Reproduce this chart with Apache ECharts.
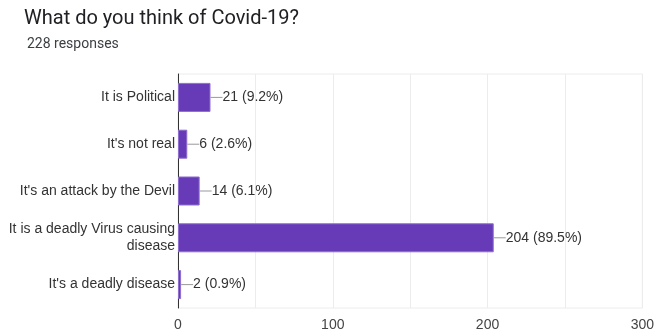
<!DOCTYPE html>
<html>
<head>
<meta charset="utf-8">
<script src="https://cdn.jsdelivr.net/npm/echarts@6/dist/echarts.min.js"></script>
<style>
  html, body { margin: 0; padding: 0; background: #fff; }
  #chart { width: 657px; height: 332px; }
</style>
</head>
<body>
<div id="chart"></div>
<script>
// Survey answers, top to bottom
const categories = [
  "It is Political",
  "It's not real",
  "It's an attack by the Devil",
  "It is a deadly Virus causing\ndisease",
  "It's a deadly disease"
];
const counts = [21, 6, 14, 204, 2];
const percents = ["9.2%", "2.6%", "6.1%", "89.5%", "0.9%"];
const xTicks = [0, 100, 200, 300];
const totalResponses = 228;

const chart = echarts.init(document.getElementById('chart'), null, { renderer: 'canvas' });

// category axis is drawn bottom-up, so reverse for top-down order
const cats = categories.slice().reverse();
const vals = counts.slice().reverse();
const pcts = percents.slice().reverse();

chart.setOption({
  animation: false,
  title: [
    {
      text: 'What do you think of Covid-19?',
      left: 19, top: 4,
      textStyle: { fontFamily: 'Roboto, Arial', fontSize: 20, fontWeight: 'normal', color: '#202124' }
    },
    {
      text: totalResponses + ' responses',
      left: 22, top: 32,
      textStyle: { fontFamily: 'Roboto, Arial', fontSize: 14, fontWeight: 'normal', color: '#3c4043' }
    }
  ],
  grid: {
    left: 178, right: 13, top: 74, bottom: 23,
    show: true, borderColor: '#ececec', borderWidth: 1
  },
  xAxis: {
    type: 'value',
    min: 0, max: 300, interval: 50,
    axisLine: { show: false },
    axisTick: { show: false },
    splitLine: { lineStyle: { color: '#ececec', width: 1 } },
    axisLabel: {
      fontFamily: 'Liberation Sans, Arial', fontSize: 14, color: '#444', margin: 10,
      formatter: v => xTicks.indexOf(v) >= 0 ? String(v) : ''
    }
  },
  yAxis: {
    type: 'category',
    data: cats,
    axisLine: { show: true, lineStyle: { color: '#333', width: 1 } },
    axisTick: { show: false },
    axisLabel: {
      fontFamily: 'Liberation Sans, Arial', fontSize: 14, color: '#333', margin: 3,
      lineHeight: 17, align: 'right'
    }
  },
  series: [{
    type: 'bar',
    data: vals,
    barCategoryGap: '38%',
    itemStyle: { color: '#673ab7', borderColor: '#8f6fcf', borderWidth: 1 },
    label: {
      show: true,
      position: 'right',
      distance: 0,
      formatter: p => '{ln|}' + '{t|' + vals[p.dataIndex] + ' (' + pcts[p.dataIndex] + ')}',
      rich: {
        ln: { width: 12, height: 1, backgroundColor: '#999', verticalAlign: 'middle' },
        t: { fontFamily: 'Liberation Sans, Arial', fontSize: 14, color: '#333', padding: [0, 0, 0, 0] }
      }
    }
  }]
});
</script>
</body>
</html>
